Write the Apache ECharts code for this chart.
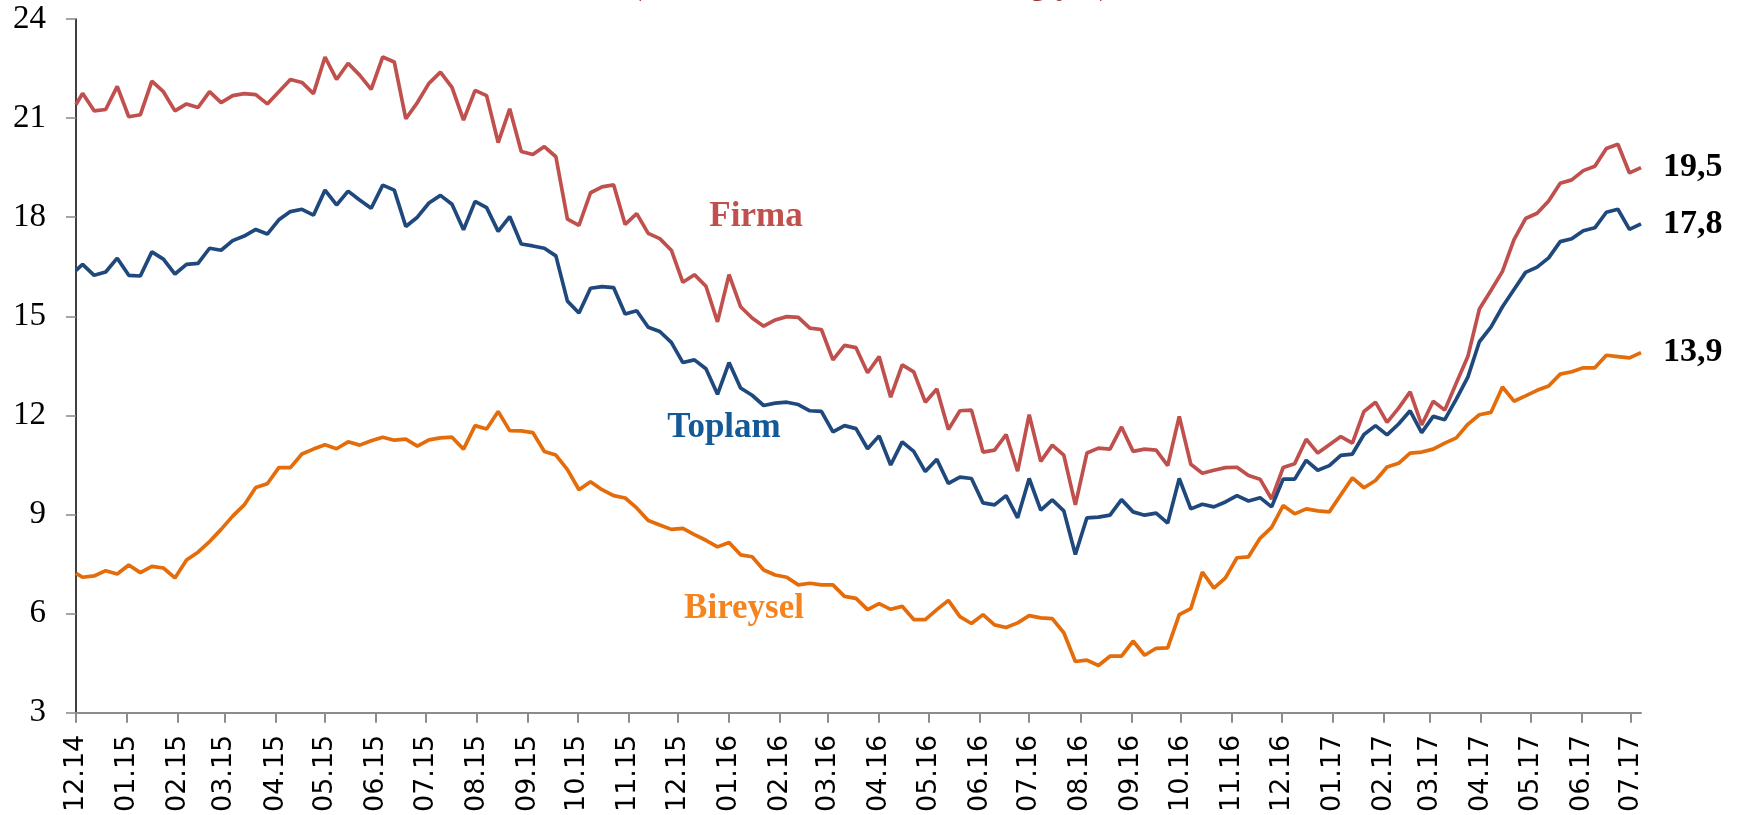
<!DOCTYPE html>
<html>
<head>
<meta charset="utf-8">
<script src="https://cdn.jsdelivr.net/npm/echarts@6/dist/echarts.min.js"></script>
<style>
  html, body { margin: 0; padding: 0; background: #fff; }
  #chart { width: 1748px; height: 815px; }
</style>
</head>
<body>
<div id="chart"></div>
<script>
// month ticks of the x axis (MM.YY)
const tickLabels = ['12.14', '01.15', '02.15', '03.15', '04.15', '05.15', '06.15', '07.15', '08.15', '09.15',
  '10.15', '11.15', '12.15', '01.16', '02.16', '03.16', '04.16', '05.16', '06.16', '07.16', '08.16',
  '09.16', '10.16', '11.16', '12.16', '01.17', '02.17', '03.17', '04.17', '05.17', '06.17', '07.17']

// weekly observations: the first point sits on 1 Dec 2014, then every Friday from 5 Dec 2014
const firstDay = [2014, 11, 1]
const firstFriday = [2014, 11, 5]

const firma = [
  21.41, 21.75, 21.22, 21.26, 21.96, 21.04, 21.10, 22.12, 21.80, 21.22,
  21.43, 21.32, 21.80, 21.47, 21.68, 21.74, 21.71, 21.43, 21.80, 22.17,
  22.08, 21.74, 22.85, 22.17, 22.66, 22.30, 21.87, 22.85, 22.70, 20.98,
  21.47, 22.05, 22.39, 21.93, 20.94, 21.84, 21.68, 20.26, 21.28, 19.99,
  19.90, 20.14, 19.83, 17.94, 17.75, 18.74, 18.92, 18.98, 17.78, 18.11,
  17.51, 17.35, 17.00, 16.03, 16.26, 15.91, 14.83, 16.26, 15.29, 14.95,
  14.70, 14.89, 14.99, 14.97, 14.64, 14.60, 13.68, 14.12, 14.05, 13.29,
  13.78, 12.55, 13.53, 13.32, 12.40, 12.80, 11.57, 12.14, 12.16, 10.89,
  10.95, 11.42, 10.31, 12.02, 10.61, 11.10, 10.80, 9.29, 10.86, 11.01,
  10.98, 11.65, 10.91, 10.98, 10.95, 10.48, 11.97, 10.52, 10.25, 10.34,
  10.42, 10.43, 10.18, 10.07, 9.47, 10.42, 10.54, 11.28, 10.86, 11.11,
  11.36, 11.16, 12.12, 12.40, 11.79, 12.22, 12.71, 11.71, 12.43, 12.16,
  12.98, 13.78, 15.22, 15.78, 16.36, 17.32, 17.96, 18.12, 18.49, 19.03,
  19.13, 19.41, 19.54, 20.08, 20.21, 19.34, 19.5
]

const toplam = [
  16.39, 16.57, 16.24, 16.34, 16.76, 16.24, 16.22, 16.95, 16.73, 16.28,
  16.57, 16.60, 17.06, 17.00, 17.29, 17.43, 17.63, 17.49, 17.92, 18.17,
  18.24, 18.06, 18.82, 18.37, 18.79, 18.52, 18.27, 18.97, 18.82, 17.72,
  18.00, 18.43, 18.66, 18.39, 17.62, 18.48, 18.29, 17.57, 18.02, 17.19,
  17.13, 17.06, 16.83, 15.46, 15.10, 15.85, 15.90, 15.87, 15.07, 15.17,
  14.67, 14.54, 14.21, 13.60, 13.68, 13.41, 12.64, 13.60, 12.83, 12.61,
  12.30, 12.37, 12.40, 12.33, 12.14, 12.12, 11.50, 11.69, 11.60, 10.99,
  11.38, 10.50, 11.20, 10.91, 10.30, 10.67, 9.94, 10.13, 10.09, 9.35,
  9.29, 9.57, 8.90, 10.09, 9.13, 9.44, 9.11, 7.79, 8.90, 8.92,
  8.98, 9.45, 9.08, 8.98, 9.04, 8.74, 10.09, 9.17, 9.31, 9.23,
  9.38, 9.57, 9.41, 9.51, 9.23, 10.07, 10.07, 10.64, 10.34, 10.48,
  10.79, 10.83, 11.42, 11.69, 11.41, 11.74, 12.14, 11.48, 11.97, 11.87,
  12.49, 13.16, 14.23, 14.67, 15.29, 15.81, 16.33, 16.49, 16.77, 17.26,
  17.35, 17.59, 17.68, 18.15, 18.24, 17.63, 17.8
]

const bireysel = [
  7.22, 7.10, 7.14, 7.30, 7.20, 7.47, 7.24, 7.43, 7.38, 7.08,
  7.62, 7.86, 8.18, 8.55, 8.95, 9.29, 9.82, 9.93, 10.42, 10.42,
  10.83, 10.98, 11.11, 10.99, 11.20, 11.10, 11.23, 11.34, 11.25, 11.28,
  11.07, 11.26, 11.32, 11.34, 10.98, 11.69, 11.59, 12.12, 11.54, 11.53,
  11.48, 10.91, 10.80, 10.36, 9.75, 9.99, 9.75, 9.57, 9.50, 9.20,
  8.82, 8.68, 8.55, 8.58, 8.39, 8.22, 8.02, 8.15, 7.78, 7.72,
  7.32, 7.17, 7.10, 6.87, 6.92, 6.87, 6.87, 6.52, 6.46, 6.12,
  6.30, 6.13, 6.22, 5.82, 5.82, 6.12, 6.40, 5.91, 5.70, 5.97,
  5.66, 5.58, 5.72, 5.94, 5.87, 5.85, 5.42, 4.55, 4.59, 4.43,
  4.71, 4.71, 5.17, 4.74, 4.95, 4.96, 5.97, 6.15, 7.26, 6.77,
  7.08, 7.69, 7.72, 8.28, 8.61, 9.27, 9.02, 9.17, 9.11, 9.08,
  9.60, 10.11, 9.81, 10.03, 10.44, 10.55, 10.86, 10.89, 10.98, 11.16,
  11.32, 11.73, 12.02, 12.09, 12.86, 12.43, 12.59, 12.76, 12.89, 13.25,
  13.32, 13.44, 13.44, 13.82, 13.78, 13.74, 13.9
]

const dates = firma.map((_, i) => i === 0
  ? new Date(firstDay[0], firstDay[1], firstDay[2]).getTime()
  : new Date(firstFriday[0], firstFriday[1], firstFriday[2] + 7 * (i - 1)).getTime())

const tickValues = tickLabels.map((s) => {
  const [m, y] = s.split('.')
  return new Date(2000 + Number(y), Number(m) - 1, 1).getTime()
})

const serif = 'Liberation Serif'
const pair = (arr) => arr.map((v, i) => [dates[i], v])

const endLabel = {
  show: true,
  distance: 22,
  fontFamily: serif,
  fontWeight: 'bold',
  fontSize: 34,
  color: '#000',
  formatter: (p) => p.value[1].toFixed(1).replace('.', ',')
}

const chart = echarts.init(document.getElementById('chart'))
chart.setOption({
  animation: false,
  backgroundColor: '#fff',
  grid: { left: 76, top: 19, width: 1565, height: 694 },
  xAxis: {
    type: 'value',
    min: dates[0],
    max: dates[dates.length - 1],
    splitLine: { show: false },
    axisLine: { lineStyle: { color: '#8c8c8c', width: 2 } },
    axisTick: {
      show: true,
      customValues: tickValues,
      length: 10,
      lineStyle: { color: '#8c8c8c', width: 2 }
    },
    axisLabel: {
      customValues: tickValues,
      rotate: 90,
      margin: 22,
      fontFamily: 'DejaVu Sans',
      fontSize: 27,
      color: '#000',
      formatter: (v) => {
        const k = tickValues.findIndex((t) => Math.abs(t - v) < 86400000)
        return k < 0 ? '' : tickLabels[k]
      }
    }
  },
  yAxis: {
    type: 'value',
    min: 3,
    max: 24,
    interval: 3,
    splitLine: { show: false },
    axisLine: { show: true, lineStyle: { color: '#000', width: 1.5 } },
    axisTick: { show: true, length: 10, lineStyle: { color: '#888', width: 1.5 } },
    axisLabel: { margin: 30, fontFamily: serif, fontSize: 33, color: '#000' }
  },
  series: [
    {
      name: 'Firma',
      type: 'line',
      data: pair(firma),
      showSymbol: false,
      lineStyle: { color: '#c0504d', width: 3.7 },
      itemStyle: { color: '#c0504d' },
      endLabel
    },
    {
      name: 'Toplam',
      type: 'line',
      data: pair(toplam),
      showSymbol: false,
      lineStyle: { color: '#1f497d', width: 3.7 },
      itemStyle: { color: '#1f497d' },
      endLabel
    },
    {
      name: 'Bireysel',
      type: 'line',
      data: pair(bireysel),
      showSymbol: false,
      lineStyle: { color: '#e46c0a', width: 3.7 },
      itemStyle: { color: '#e46c0a' },
      endLabel
    }
  ],
  graphic: [
    // title line, cut off by the top edge so only the descenders show
    {
      type: 'text',
      left: 632,
      top: -28,
      style: { text: '(Kredi, 13 haftalık ortalama değişim)', font: 'bold 30px "Liberation Serif"', fill: '#953735' }
    },
    {
      type: 'text',
      x: 756,
      y: 217,
      style: { text: 'Firma', font: 'bold 35px "Liberation Serif"', fill: '#c0504d', align: 'center', verticalAlign: 'middle' }
    },
    {
      type: 'text',
      x: 724,
      y: 428,
      style: { text: 'Toplam', font: 'bold 35px "Liberation Serif"', fill: '#145a97', align: 'center', verticalAlign: 'middle' }
    },
    {
      type: 'text',
      x: 744,
      y: 609,
      style: { text: 'Bireysel', font: 'bold 35px "Liberation Serif"', fill: '#f5841f', align: 'center', verticalAlign: 'middle' }
    }
  ]
})
</script>
</body>
</html>
